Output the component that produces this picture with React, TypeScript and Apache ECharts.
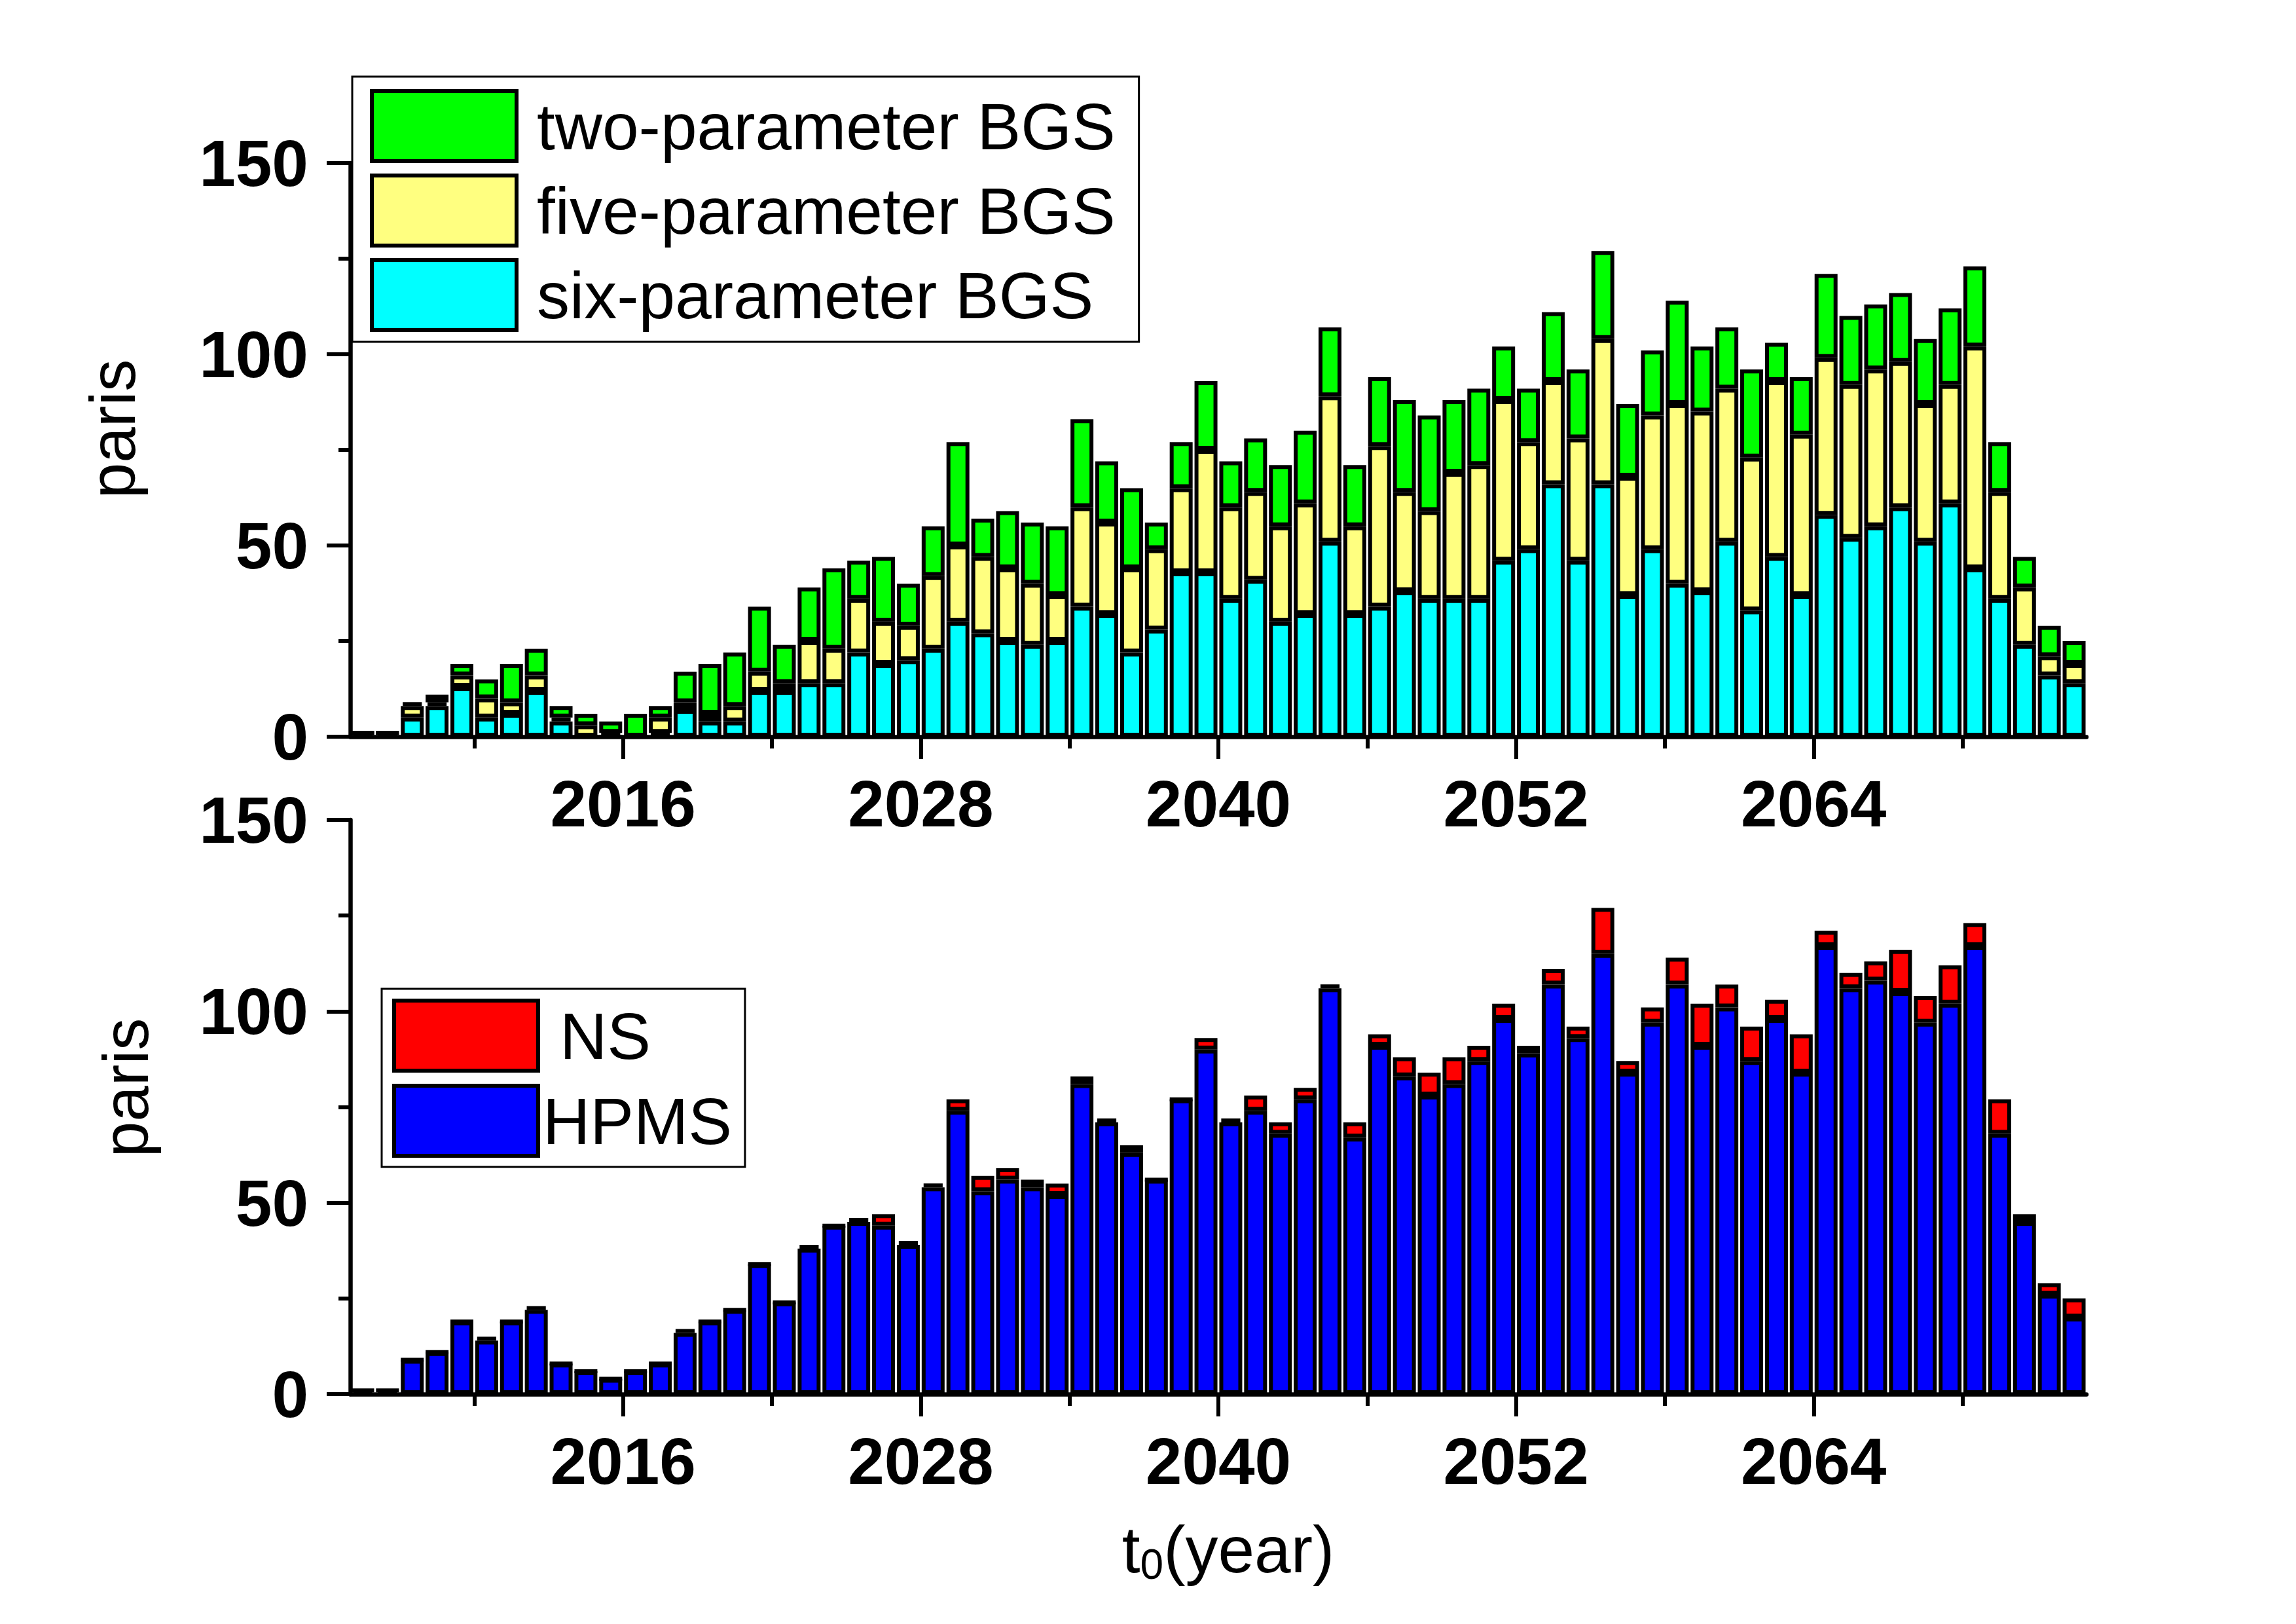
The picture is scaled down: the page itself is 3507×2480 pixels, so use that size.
import React, { useEffect, useRef } from "react";
import * as echarts from "echarts";

// categories: start year of each one-year bin
const years = [
  2005, 2006, 2007, 2008, 2009, 2010, 2011, 2012, 2013, 2014,
  2015, 2016, 2017, 2018, 2019, 2020, 2021, 2022, 2023, 2024,
  2025, 2026, 2027, 2028, 2029, 2030, 2031, 2032, 2033, 2034,
  2035, 2036, 2037, 2038, 2039, 2040, 2041, 2042, 2043, 2044,
  2045, 2046, 2047, 2048, 2049, 2050, 2051, 2052, 2053, 2054,
  2055, 2056, 2057, 2058, 2059, 2060, 2061, 2062, 2063, 2064,
  2065, 2066, 2067, 2068, 2069, 2070, 2071, 2072, 2073, 2074,
];

// top panel (stacked): six-parameter (bottom), five-parameter, two-parameter (top)
const sixParam = [
  1, 1, 5, 8, 13, 5, 6, 12, 4, 0,
  0, 0, 1, 7, 4, 4, 12, 12, 14, 14,
  22, 19, 20, 23, 30, 27, 25, 24, 25, 34,
  32, 22, 28, 43, 43, 36, 41, 30, 32, 51,
  32, 34, 38, 36, 36, 36, 46, 49, 66, 46,
  66, 37, 49, 40, 38, 51, 33, 47, 37, 58,
  52, 55, 60, 51, 61, 44, 36, 24, 16, 14,
];
const fiveParam = [
  0, 0, 3, 1, 3, 5, 3, 4, 1, 3,
  1, 0, 4, 2, 2, 4, 5, 2, 11, 9,
  14, 11, 9, 19, 20, 20, 19, 16, 12, 26,
  24, 22, 21, 22, 32, 24, 23, 25, 29, 38,
  23, 42, 26, 23, 33, 35, 42, 28, 27, 32,
  38, 31, 35, 47, 47, 40, 40, 46, 42, 41,
  40, 41, 38, 36, 31, 58, 28, 15, 5, 5,
];
const twoParam = [
  0, 0, 1, 2, 3, 5, 10, 7, 3, 3,
  3, 6, 3, 8, 13, 14, 17, 10, 14, 21,
  10, 17, 11, 13, 27, 10, 15, 16, 18, 23,
  16, 21, 7, 12, 18, 12, 14, 16, 19, 18,
  16, 18, 24, 25, 19, 20, 14, 14, 18, 18,
  23, 19, 17, 27, 17, 16, 23, 10, 15, 22,
  18, 17, 18, 17, 20, 21, 13, 8, 8, 6,
];

// bottom panel (stacked): HPMS (bottom), NS (top)
const hpms = [
  1, 1, 9, 11, 19, 14, 19, 22, 8, 6,
  4, 6, 8, 16, 19, 22, 34, 24, 38, 44,
  45, 44, 39, 54, 74, 53, 56, 54, 52, 81,
  71, 63, 56, 77, 90, 71, 74, 68, 77, 106,
  67, 91, 83, 78, 81, 87, 98, 89, 107, 93,
  115, 84, 97, 107, 91, 101, 87, 98, 84, 117,
  106, 108, 105, 97, 102, 117, 68, 45, 26, 20,
];
const ns = [
  0, 0, 0, 0, 0, 1, 0, 1, 0, 0,
  0, 0, 0, 1, 0, 0, 0, 0, 1, 0,
  1, 3, 1, 1, 3, 4, 3, 2, 3, 2,
  1, 2, 0, 0, 3, 1, 4, 3, 3, 1,
  4, 3, 5, 6, 7, 4, 4, 2, 4, 3,
  12, 3, 4, 7, 11, 6, 9, 5, 10, 4,
  4, 5, 11, 7, 10, 6, 9, 2, 3, 5,
];

// axis ticks (year scale)
const majorYearTicks = [2016, 2028, 2040, 2052, 2064];
const minorYearTicks = [2010, 2022, 2034, 2046, 2058, 2070];
const xMin = 2005;
const xMax = 2075;

const FONT = "'Liberation Sans', Arial, Helvetica, sans-serif";
const BLACK = "#000000";

function buildOption() {
  const axisLineStyle = { color: BLACK, width: 6.5 };
  const tickStyle = { color: BLACK, width: 6 };
  const grids = [
    { left: 535, top: 249, width: 2652, height: 876 },
    { left: 535, top: 1252, width: 2652, height: 877 },
  ];

  const xAxes: any[] = [];
  const yAxes: any[] = [];
  grids.forEach((_, g) => {
    // band axis carrying the bars (one band per year bin)
    xAxes.push({
      type: "category",
      gridIndex: g,
      data: years.map(String),
      boundaryGap: true,
      position: "bottom",
      axisLine: { show: true, onZero: false, lineStyle: axisLineStyle },
      axisTick: { show: false },
      axisLabel: { show: false },
      splitLine: { show: false },
      z: 5,
    });
    // year scale: major ticks and labels
    xAxes.push({
      type: "value",
      gridIndex: g,
      min: xMin,
      max: xMax,
      position: "bottom",
      offset: 0,
      axisLine: { show: false },
      axisTick: {
        show: true,
        customValues: majorYearTicks,
        length: 34,
        lineStyle: tickStyle,
      },
      axisLabel: {
        show: true,
        customValues: majorYearTicks,
        formatter: (v: number) => String(v),
        fontSize: 100,
        fontWeight: "bold",
        color: BLACK,
        fontFamily: FONT,
        margin: 52,
      },
      splitLine: { show: false },
    });
    // year scale: minor ticks
    xAxes.push({
      type: "value",
      gridIndex: g,
      min: xMin,
      max: xMax,
      position: "bottom",
      offset: 0,
      axisLine: { show: false },
      axisTick: {
        show: true,
        customValues: minorYearTicks,
        length: 18,
        lineStyle: tickStyle,
      },
      axisLabel: { show: false },
      splitLine: { show: false },
    });
    yAxes.push({
      type: "value",
      gridIndex: g,
      min: 0,
      max: 150,
      interval: 50,
      axisLine: { show: true, onZero: false, lineStyle: axisLineStyle },
      axisTick: { show: true, length: 36, lineStyle: tickStyle },
      minorTick: { show: true, splitNumber: 2, length: 18, lineStyle: tickStyle },
      axisLabel: {
        fontSize: 100,
        fontWeight: "bold",
        color: BLACK,
        fontFamily: FONT,
        margin: 64,
      },
      splitLine: { show: false },
      minorSplitLine: { show: false },
    });
  });

  const barBase = (color: string) => ({
    type: "bar",
    barWidth: 35,
    itemStyle: { color, borderColor: BLACK, borderWidth: 6 },
  });

  const series: any[] = [
    { ...barBase("#00FFFF"), name: "six-parameter BGS", xAxisIndex: 0, yAxisIndex: 0, stack: "bgs", data: sixParam },
    { ...barBase("#FFFF80"), name: "five-parameter BGS", xAxisIndex: 0, yAxisIndex: 0, stack: "bgs", data: fiveParam },
    { ...barBase("#00FF00"), name: "two-parameter BGS", xAxisIndex: 0, yAxisIndex: 0, stack: "bgs", data: twoParam },
    { ...barBase("#0000FF"), name: "HPMS", xAxisIndex: 3, yAxisIndex: 1, stack: "src", data: hpms },
    { ...barBase("#FF0000"), name: "NS", xAxisIndex: 3, yAxisIndex: 1, stack: "src", data: ns },
  ];

  const legendCommon = {
    orient: "vertical",
    icon: "rect",
    selectedMode: false,
    borderColor: BLACK,
    borderWidth: 3,
    backgroundColor: "#FFFFFF",
    itemStyle: { borderColor: BLACK, borderWidth: 6 },
    z: 10,
  };

  const legends = [
    {
      ...legendCommon,
      data: ["two-parameter BGS", "five-parameter BGS", "six-parameter BGS"],
      left: 538,
      top: 117,
      padding: [19, 36, 15, 27],
      itemWidth: 221,
      itemHeight: 107,
      itemGap: 16,
      textStyle: { fontSize: 100, lineHeight: 107, color: BLACK, fontFamily: FONT, padding: [0, 0, 0, 26] },
    },
    {
      ...legendCommon,
      data: ["NS", "HPMS"],
      left: 583,
      top: 1510,
      padding: [15, 20, 14, 16],
      itemWidth: 220,
      itemHeight: 107,
      itemGap: 17,
      formatter: (n: string) => (n === "NS" ? "{ns|NS}" : "{hp|HPMS}"),
      textStyle: {
        fontSize: 100,
        lineHeight: 107,
        color: BLACK,
        fontFamily: FONT,
        rich: {
          ns: { fontSize: 100, lineHeight: 107, color: BLACK, fontFamily: FONT, padding: [0, 0, 0, 28] },
          hp: { fontSize: 100, lineHeight: 107, color: BLACK, fontFamily: FONT, padding: [0, 0, 0, 2] },
        },
      },
    },
  ];

  const graphic = [
    {
      type: "text",
      x: 172,
      y: 655,
      rotation: Math.PI / 2,
      style: { text: "paris", fontSize: 98, fontFamily: FONT, fill: BLACK, align: "center", verticalAlign: "middle" },
    },
    {
      type: "text",
      x: 192,
      y: 1661,
      rotation: Math.PI / 2,
      style: { text: "paris", fontSize: 98, fontFamily: FONT, fill: BLACK, align: "center", verticalAlign: "middle" },
    },
    {
      type: "text",
      x: 1876,
      y: 2366,
      style: {
        text: "{a|t}{b|0}{a|(year)}",
        align: "center",
        verticalAlign: "middle",
        rich: {
          a: { fontSize: 100, lineHeight: 110, fontFamily: FONT, fill: BLACK },
          b: { fontSize: 64, lineHeight: 24, verticalAlign: "bottom", fontFamily: FONT, fill: BLACK },
        },
      },
    },
  ];

  return {
    animation: false,
    backgroundColor: "#FFFFFF",
    grid: grids,
    xAxis: xAxes,
    yAxis: yAxes,
    legend: legends,
    series,
    graphic,
  };
}

export default function App() {
  const ref = useRef<HTMLDivElement>(null);
  useEffect(() => {
    if (!ref.current) return;
    const chart = echarts.init(ref.current, null, { renderer: "svg", width: 3507, height: 2480 });
    chart.setOption(buildOption() as any);
    return () => chart.dispose();
  }, []);
  return (
    <div
      ref={ref}
      style={{ position: "fixed", left: 0, top: 0, width: 3507, height: 2480, background: "#FFFFFF" }}
    />
  );
}
